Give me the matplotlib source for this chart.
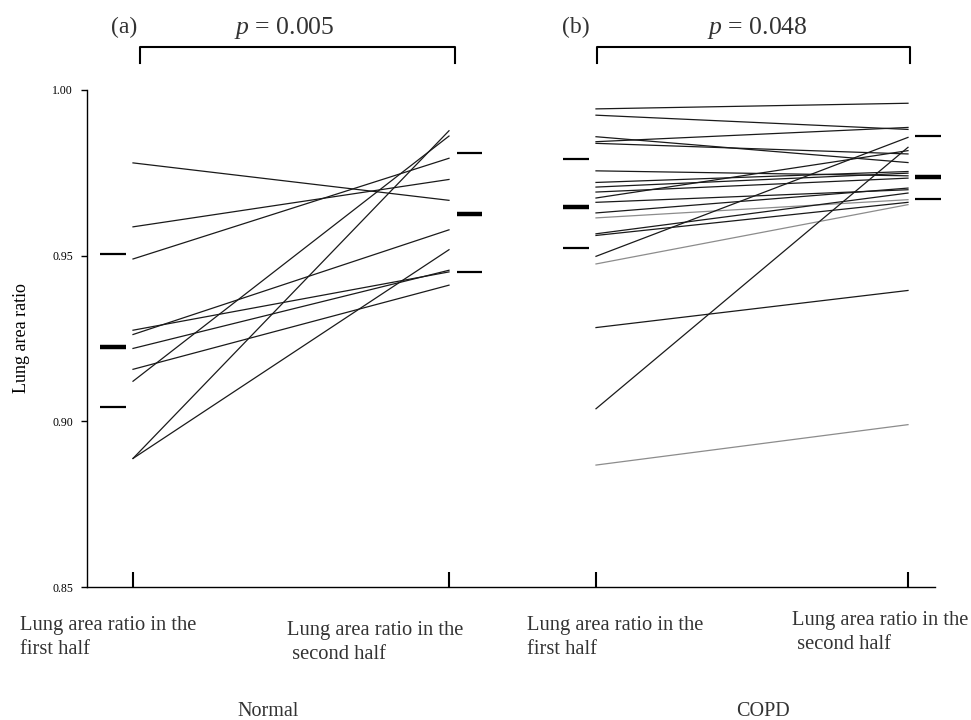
import matplotlib
matplotlib.use("Agg")
import matplotlib.pyplot as plt
from matplotlib.lines import Line2D

plt.rcParams["font.family"] = ["Liberation Serif", "DejaVu Serif"]
plt.rcParams["mathtext.fontset"] = "custom"
plt.rcParams["mathtext.it"] = "Liberation Serif:italic"
plt.rcParams["mathtext.rm"] = "Liberation Serif"

# =========================
# DATA
# =========================

groups = ["Normal", "COPD"]
time_labels = ["Lung area ratio in the\nfirst half", "Lung area ratio in the\n second half"]
p_values = ["0.005", "0.048"]
panel_tags = ["(a)", "(b)"]

normal_first = [0.9780, 0.9587, 0.9490, 0.9275, 0.9262, 0.9220, 0.9157, 0.9121, 0.8888, 0.8888]
normal_second = [0.9667, 0.9730, 0.9794, 0.9451, 0.9578, 0.9456, 0.9411, 0.9861, 0.9518, 0.9877]

copd_first = [0.9943, 0.9924, 0.9859, 0.9844, 0.9839, 0.9756, 0.9721, 0.9707, 0.9692, 0.9674,
              0.9661, 0.9629, 0.9614, 0.9566, 0.9561, 0.9498, 0.9475, 0.9283, 0.9038, 0.8868]
copd_second = [0.9960, 0.9881, 0.9781, 0.9887, 0.9807, 0.9741, 0.9754, 0.9749, 0.9734, 0.9817,
               0.9699, 0.9704, 0.9669, 0.9689, 0.9661, 0.9857, 0.9654, 0.9395, 0.9827, 0.8990]
copd_gray = [12, 16, 19]

# mean and mean +/- SD marks: (mean, upper, lower)
normal_first_stats = (0.9223, 0.9506, 0.9042)
normal_second_stats = (0.9626, 0.9811, 0.9451)
copd_first_stats = (0.9648, 0.9792, 0.9523)
copd_second_stats = (0.9736, 0.9862, 0.9671)

# =========================
# LAYOUT (pixel based)
# =========================

W, H = 971, 720
X_POS = [133, 449, 596, 908]


def fx(px):
    return px / W


def fy(py):
    return 1 - py / H


fig = plt.figure(figsize=(W / 100, H / 100), dpi=100)
ax = fig.add_axes([fx(87), fy(587), fx(935) - fx(87), fy(90) - fy(587)])
ax.set_xlim(87, 935)
ax.set_ylim(0.85, 1.00)

for side in ["top", "right"]:
    ax.spines[side].set_visible(False)
for side in ["left", "bottom"]:
    ax.spines[side].set_linewidth(1.0)

ax.set_yticks([0.85, 0.90, 0.95, 1.00])
ax.set_yticklabels(["0.85", "0.90", "0.95", "1.00"], fontsize=8.5)
ax.tick_params(axis="y", direction="out", length=4, width=1.0, pad=6)
ax.set_xticks(X_POS)
ax.set_xticklabels([])
ax.tick_params(axis="x", direction="in", length=11, width=1.5)
ax.set_ylabel("Lung area ratio", fontsize=13, labelpad=16)

# paired lines
for a, b in zip(normal_first, normal_second):
    ax.plot([X_POS[0], X_POS[1]], [a, b], color="#1a1a1a", lw=0.9)

for i, (a, b) in enumerate(zip(copd_first, copd_second)):
    col = "#8c8c8c" if i in copd_gray else "#1a1a1a"
    ax.plot([X_POS[2], X_POS[3]], [a, b], color=col, lw=0.9)

# mean / SD marks
mark_spans = [(100, 126), (457, 482), (563, 589), (915, 941)]
all_stats = [normal_first_stats, normal_second_stats, copd_first_stats, copd_second_stats]
for (x0, x1), (m, up, lo) in zip(mark_spans, all_stats):
    ax.plot([x0, x1], [m, m], color="black", lw=3.2, clip_on=False, solid_capstyle="butt")
    ax.plot([x0, x1], [up, up], color="black", lw=1.6, clip_on=False, solid_capstyle="butt")
    ax.plot([x0, x1], [lo, lo], color="black", lw=1.6, clip_on=False, solid_capstyle="butt")

# brackets with p values
brackets = [(140, 455), (597, 910)]
tag_x = [124, 576]
p_x = [284, 757]
for (bx0, bx1), p, tag, tx, px in zip(brackets, p_values, panel_tags, tag_x, p_x):
    fig.add_artist(Line2D([fx(bx0), fx(bx0), fx(bx1), fx(bx1)],
                          [fy(63), fy(47), fy(47), fy(63)],
                          transform=fig.transFigure, color="black", lw=1.5))
    fig.text(fx(px), fy(28), rf"$p$ = {p}", fontsize=18.5,
             ha="center", va="center", color="#333333")
    fig.text(fx(tx), fy(27), tag, fontsize=17, ha="center", va="center", color="#333333")

# category labels under the axis
label_pos = [(20, 616), (287, 621), (527, 616), (792, 611)]
for i, (lx, ly) in enumerate(label_pos):
    fig.text(fx(lx), fy(ly), time_labels[i % 2], fontsize=14.8, ha="left", va="top",
             linespacing=1.35, color="#333333")

group_x = [268, 763]
for g, gx in zip(groups, group_x):
    fig.text(fx(gx), fy(711), g, fontsize=14.5, ha="center", va="center", color="#333333")

fig.savefig("out.png", dpi=100)
